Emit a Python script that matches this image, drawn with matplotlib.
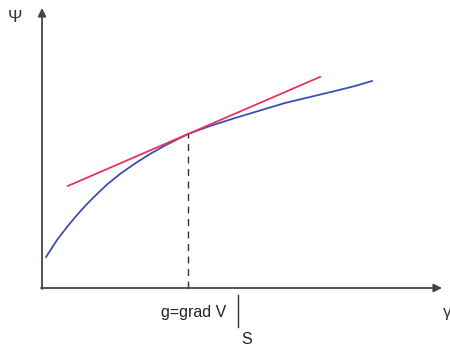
import matplotlib.pyplot as plt

plt.rcParams["font.family"] = ["Liberation Sans", "DejaVu Sans"]

# curve psi(gamma) (axis origin at 0,0)
gamma = [4, 15, 25, 35, 45, 55, 65, 78, 93, 108, 123, 146, 168, 193, 218, 243, 268, 293, 313, 330]
psi = [31, 48, 61, 73, 84, 94, 103.5, 114, 124.5, 134, 142.5, 154, 162, 170, 177.5, 185, 191, 197, 202, 207]

# tangent at the point g
g = 146
psi_g = 154
tangent_x = [26, 278]
slope = 0.4325

fig = plt.figure(figsize=(4.5, 3.5), dpi=100)
ax = fig.add_axes([0, 0, 1, 1])
ax.set_xlim(-42, 408)
ax.set_ylim(-62, 288)
ax.axis("off")

axis_color = "#444444"
arrow = dict(arrowstyle="-|>", color=axis_color, lw=1.3, mutation_scale=12, shrinkA=0, shrinkB=0)
ax.annotate("", xy=(0, 280), xytext=(0, -1), arrowprops=arrow)
ax.annotate("", xy=(400, 0), xytext=(-1, 0), arrowprops=arrow)

ax.plot(gamma, psi, color="#3c4fb4", lw=1.3, solid_joinstyle="round")
ty = [psi_g + slope * (t - g) for t in tangent_x]
ax.plot(tangent_x, ty, color="#e8335f", lw=1.3)

ax.plot([g, g], [0, psi_g], color="#333333", lw=1, ls=(0, (5, 4)))
ax.plot([g, g], [0, 4], color=axis_color, lw=1)

ax.text(-27, 270, "Ψ", fontsize=12.5, color="#333333", ha="center", va="center")
ax.text(405, -24, "γ", fontsize=12.5, color="#333333", ha="center", va="center")
ax.text(152, -24, "g=grad V", fontsize=11.5, color="#222222", ha="center", va="center")
ax.plot([196, 196], [-7, -39], color="#333333", lw=1)
ax.text(205, -52, "S", fontsize=11.5, color="#222222", ha="center", va="center")

fig.savefig("out.png", dpi=100)
